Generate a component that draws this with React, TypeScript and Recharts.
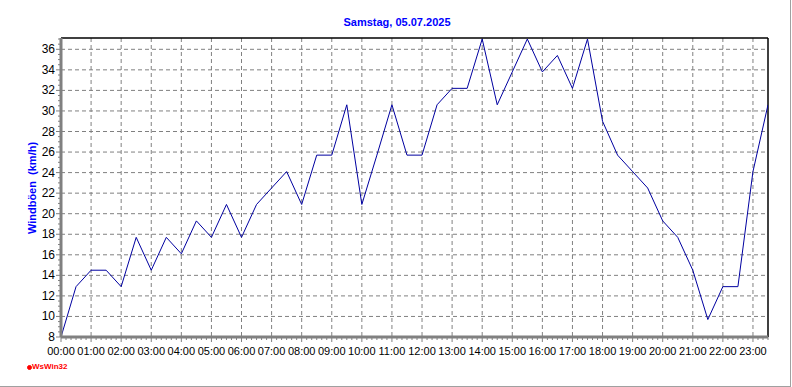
import React from "react";
import { LineChart, Line, XAxis, YAxis, CartesianGrid, ReferenceLine } from "recharts";

// half-hourly gusts, Samstag 05.07.2025
const times = [
  "00:00", "00:30", "01:00", "01:30", "02:00", "02:30", "03:00", "03:30",
  "04:00", "04:30", "05:00", "05:30", "06:00", "06:30", "07:00", "07:30",
  "08:00", "08:30", "09:00", "09:30", "10:00", "10:30", "11:00", "11:30",
  "12:00", "12:30", "13:00", "13:30", "14:00", "14:30", "15:00", "15:30",
  "16:00", "16:30", "17:00", "17:30", "18:00", "18:30", "19:00", "19:30",
  "20:00", "20:30", "21:00", "21:30", "22:00", "22:30", "23:00", "23:30",
];
const gusts = [
  8.0, 12.9, 14.5, 14.5, 12.9, 17.7, 14.5, 17.7,
  16.1, 19.3, 17.7, 20.9, 17.7, 20.9, 22.5, 24.1,
  20.9, 25.7, 25.7, 30.6, 20.9, 25.7, 30.6, 25.7,
  25.7, 30.6, 32.2, 32.2, 37.0, 30.6, 33.8, 37.0,
  33.8, 35.4, 32.2, 37.0, 29.0, 25.7, 24.1, 22.5,
  19.3, 17.7, 14.5, 9.7, 12.9, 12.9, 24.1, 30.6,
];
const hourLabels = [
  "00:00", "01:00", "02:00", "03:00", "04:00", "05:00", "06:00", "07:00",
  "08:00", "09:00", "10:00", "11:00", "12:00", "13:00", "14:00", "15:00",
  "16:00", "17:00", "18:00", "19:00", "20:00", "21:00", "22:00", "23:00",
];
const yLabels = [8, 10, 12, 14, 16, 18, 20, 22, 24, 26, 28, 30, 32, 34, 36];

const toHours = (s: string) => {
  const [h, m] = s.split(":").map(Number);
  return h + m / 60;
};
const data = times.map((t, i) => ({ t: toHours(t), v: gusts[i] }));
const hourValues = hourLabels.map(toHours);

// minor ticks: every 10 min on x, every 0.5 km/h on y
const xMinor = Array.from({ length: 142 }, (_, i) => i / 6);
const yMinor = Array.from({ length: 59 }, (_, i) => 8 + i / 2);

const FONT = "Arial, 'Liberation Sans', sans-serif";
const GREY = "#808080";

const isWhole = (v: number) => Math.abs(v - Math.round(v)) < 1e-6;

function XTick(props: any) {
  const { x, y, payload } = props;
  const v = payload.value as number;
  const major = isWhole(v);
  return (
    <g>
      <line x1={x} x2={x} y1={y} y2={y + (major ? 5 : 3)} stroke={GREY} />
      {major && (
        <text x={x} y={y + 18} textAnchor="middle" fontSize={11} fontFamily={FONT} fill="#000">
          {hourLabels[Math.round(v)]}
        </text>
      )}
    </g>
  );
}

function YTick(props: any) {
  const { x, y, payload } = props;
  const v = payload.value as number;
  const labeled = isWhole(v) && yLabels.includes(Math.round(v));
  return (
    <g>
      <line x1={x - (labeled ? 5 : 3)} x2={x} y1={y} y2={y} stroke={GREY} />
      {labeled && (
        <text x={x - 6} y={y + 4} textAnchor="end" fontSize={12} fontFamily={FONT} fill="#000">
          {v}
        </text>
      )}
    </g>
  );
}

export default function App() {
  return (
    <div style={{ position: "absolute", left: 0, top: 0, width: 792, height: 387, background: "#fff", fontFamily: FONT }}>
      <div
        style={{
          position: "absolute", left: 0, top: 0, width: 790, height: 386,
          borderRight: "1px solid #a0a0a0", borderBottom: "1px solid #a0a0a0",
        }}
      />
      <div
        style={{
          position: "absolute", left: 0, top: 16, width: 794, textAlign: "center",
          fontSize: 11, fontWeight: "bold", color: "#0000ff",
        }}
      >
        Samstag, 05.07.2025
      </div>
      <div
        style={{
          position: "absolute", left: 32 - 100, top: 188 - 7, width: 200, height: 14, lineHeight: "14px",
          textAlign: "center", transform: "rotate(-90deg)", fontSize: 11, fontWeight: "bold",
          color: "#0000ff", whiteSpace: "pre",
        }}
      >
        Windböen  (km/h)
      </div>
      <div
        style={{
          position: "absolute", left: 27, top: 365, width: 3, height: 3,
          border: "1px solid #ff0000", borderRadius: "50%", background: "#ff0000",
        }}
      />
      <div
        style={{
          position: "absolute", left: 32, top: 362, fontSize: 8, fontWeight: "bold",
          color: "#ff0000", lineHeight: "10px",
        }}
      >
        WsWin32
      </div>
      <LineChart width={792} height={387} data={data} margin={{ top: 38, right: 24, bottom: 0, left: 0 }}>
        <CartesianGrid
          stroke={GREY}
          strokeDasharray="4 3"
          horizontalValues={yLabels.slice(1)}
          verticalValues={hourValues.slice(1)}
        />
        <XAxis
          dataKey="t"
          type="number"
          domain={[0, 23.5]}
          ticks={xMinor}
          interval={0}
          height={50}
          tickSize={0}
          tickMargin={0}
          tickLine={false}
          tick={<XTick />}
          axisLine={{ stroke: GREY, strokeWidth: 3 }}
          allowDataOverflow
        />
        <YAxis
          type="number"
          domain={[8, 37.1]}
          ticks={yMinor}
          interval={0}
          width={61}
          tickSize={0}
          tickMargin={0}
          tickLine={false}
          tick={<YTick />}
          axisLine={{ stroke: GREY, strokeWidth: 3 }}
          allowDataOverflow
        />
        <ReferenceLine y={37.1} stroke="#000" strokeWidth={1.5} />
        <ReferenceLine x={23.5} stroke="#000" strokeWidth={1.5} />
        <Line
          type="linear"
          dataKey="v"
          stroke="#0000a0"
          strokeWidth={1}
          dot={false}
          isAnimationActive={false}
        />
      </LineChart>
    </div>
  );
}
